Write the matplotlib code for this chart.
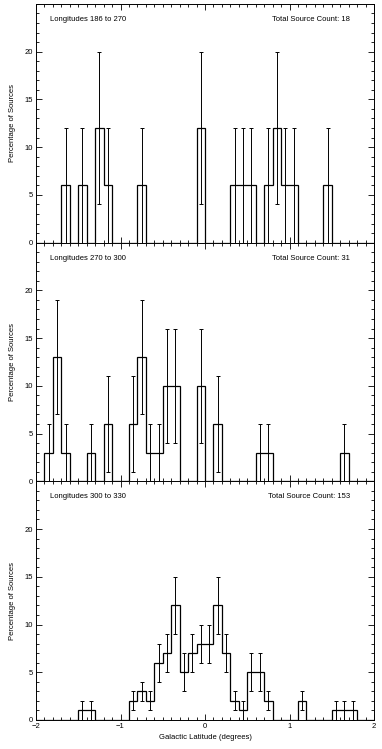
import numpy as np
import matplotlib
matplotlib.use('Agg')
import matplotlib.pyplot as plt
from matplotlib.ticker import MultipleLocator

plt.rcParams['font.family'] = ['Liberation Sans', 'DejaVu Sans']

# bin edges: 0.1 deg bins from -2 to 2
edges = np.round(np.arange(-2.0, 2.0001, 0.1), 2)
nbins = len(edges) - 1

# panel data: left edge of nonzero bins, percentage, error
p1_left = [-1.7, -1.5, -1.3, -1.2, -0.8, -0.1, 0.3, 0.4, 0.5, 0.7, 0.8, 0.9, 1.0, 1.4]
p1_val = [6, 6, 12, 6, 6, 12, 6, 6, 6, 6, 12, 6, 6, 6]
p1_err = [6, 6, 8, 6, 6, 8, 6, 6, 6, 6, 8, 6, 6, 6]

p2_left = [-1.9, -1.8, -1.7, -1.4, -1.2, -0.9, -0.8, -0.7, -0.6, -0.5, -0.4, -0.1, 0.1, 0.6, 0.7, 1.6]
p2_val = [3, 13, 3, 3, 6, 6, 13, 3, 3, 10, 10, 10, 6, 3, 3, 3]
p2_err = [3, 6, 3, 3, 5, 5, 6, 3, 3, 6, 6, 6, 5, 3, 3, 3]

p3_left = [-1.5, -1.4, -0.9, -0.8, -0.7, -0.6, -0.5, -0.4, -0.3, -0.2, -0.1, 0.0,
           0.1, 0.2, 0.3, 0.4, 0.5, 0.6, 0.7, 1.1, 1.5, 1.6, 1.7]
p3_val = [1, 1, 2, 3, 2, 6, 7, 12, 5, 7, 8, 8, 12, 7, 2, 1, 5, 5, 2, 2, 1, 1, 1]
p3_err = [1, 1, 1, 1, 1, 2, 2, 3, 2, 2, 2, 2, 3, 2, 1, 1, 2, 2, 1, 1, 1, 1, 1]

titles = ['Longitudes 186 to 270', 'Longitudes 270 to 300', 'Longitudes 300 to 330']
counts = [18, 31, 153]

panels = [(p1_left, p1_val, p1_err), (p2_left, p2_val, p2_err), (p3_left, p3_val, p3_err)]

fig = plt.figure(figsize=(3.82, 7.49), dpi=100)
left, right = 36 / 382, 374 / 382
bottom = 29 / 749
h = 238.7 / 749

for i, (lefts, vals, errs) in enumerate(panels):
    ax = fig.add_axes([left, bottom + (2 - i) * h, right - left, h])
    hist = np.zeros(nbins)
    idx = [int(round((l + 2.0) / 0.1)) for l in lefts]
    hist[idx] = vals
    ax.stairs(hist, edges, color='black', lw=0.9, baseline=0)
    centers = np.array(lefts) + 0.05
    ax.errorbar(centers, vals, yerr=errs, fmt='none', ecolor='black',
                elinewidth=0.7, capsize=1.5, capthick=0.7)
    ax.set_xlim(-2, 2)
    ax.set_ylim(0, 25)
    ax.xaxis.set_major_locator(MultipleLocator(1))
    ax.xaxis.set_minor_locator(MultipleLocator(0.1))
    ax.yaxis.set_major_locator(MultipleLocator(5))
    ax.yaxis.set_minor_locator(MultipleLocator(1))
    ax.set_yticks([0, 5, 10, 15, 20])
    ax.tick_params(which='both', direction='in', top=True, right=True,
                   labelsize=5.5, width=0.6, pad=2)
    ax.tick_params(which='major', length=4)
    ax.tick_params(which='minor', length=2)
    for s in ax.spines.values():
        s.set_linewidth(0.7)
    ax.set_ylabel('Percentage of Sources', fontsize=5.5, labelpad=6)
    ax.text(0.04, 0.935, titles[i], transform=ax.transAxes, fontsize=5.5,
            ha='left', va='center')
    ax.text(0.93, 0.935, 'Total Source Count: %d' % counts[i], transform=ax.transAxes,
            fontsize=5.5, ha='right', va='center')
    if i < 2:
        ax.tick_params(labelbottom=False)
    else:
        ax.set_xlabel('Galactic Latitude (degrees)', fontsize=5.5, labelpad=3)

fig.savefig('out.png', dpi=100)
